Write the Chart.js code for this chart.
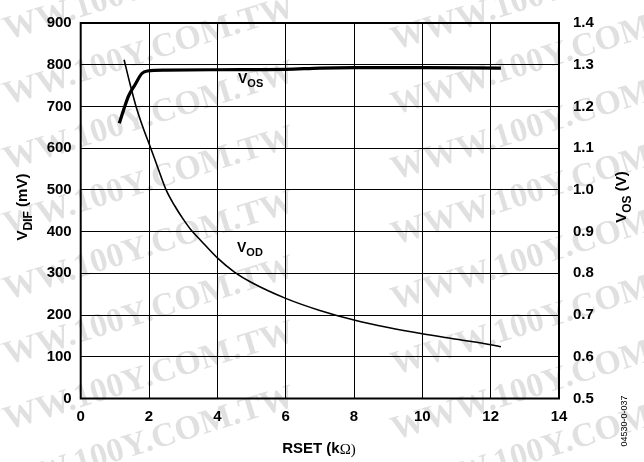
<!DOCTYPE html>
<html>
<head>
<meta charset="utf-8">
<script src="https://cdn.jsdelivr.net/npm/chart.js@4.4.1/dist/chart.umd.min.js"></script>
<style>
  html, body { margin: 0; padding: 0; background: #fff; }
  #wrap { width: 644px; height: 462px; position: relative; }
</style>
</head>
<body>
<div id="wrap"><canvas id="myChart" width="644" height="462"></canvas></div>
<script>
// RSET (kOhm) vs VOD (mV), left axis
const vodX = [1.27, 1.45, 1.62, 1.8, 2.05, 2.25, 2.5, 2.75, 3.0, 3.25, 3.5, 4.0, 4.5, 5.0, 6.0, 7.0, 8.0, 9.0, 10.0, 11.0, 12.0, 12.3];
const vodY = [812, 752, 700, 655, 600, 555, 500, 462, 430, 402, 380, 337, 303, 278, 240, 211, 188, 170, 155, 142, 129, 124];

// RSET (kOhm) vs VOS (V), right axis
const vosX = [1.13, 1.25, 1.4, 1.59, 1.79, 1.95, 2.5, 4.0, 6.0, 7.0, 8.0, 10.0, 12.3];
const vosY = [1.16, 1.19, 1.225, 1.252, 1.279, 1.285, 1.287, 1.288, 1.289, 1.292, 1.293, 1.293, 1.292];

const xTicks = [0, 2, 4, 6, 8, 10, 12, 14];
const leftTicks = [0, 100, 200, 300, 400, 500, 600, 700, 800, 900];
const rightTicks = [0.5, 0.6, 0.7, 0.8, 0.9, 1.0, 1.1, 1.2, 1.3, 1.4];

const tickFont = { family: 'Liberation Sans', size: 15, weight: 'bold' };

function pairs(xs, ys) {
    return xs.map(function (x, i) { return { x: x, y: ys[i] }; });
}

// V with a subscript, bold
function subText(ctx, main, sub, x, y, size) {
    ctx.font = 'bold ' + size + 'px "Liberation Sans"';
    ctx.textBaseline = 'alphabetic';
    ctx.textAlign = 'left';
    ctx.fillText(main, x, y);
    let w = ctx.measureText(main).width;
    ctx.font = 'bold ' + Math.round(size * 0.8) + 'px "Liberation Sans"';
    ctx.fillText(sub, x + w, y + size * 0.3);
    return w + ctx.measureText(sub).width;
}

const extras = {
    id: 'extras',
    beforeDraw(chart) {
        const ctx = chart.ctx;
        ctx.save();
        ctx.fillStyle = '#fff';
        ctx.fillRect(0, 0, chart.width, chart.height);
        // watermark
        ctx.fillStyle = 'rgba(0,0,0,0.12)';
        ctx.font = 'bold 34px "Liberation Serif"';
        ctx.textBaseline = 'alphabetic';
        ctx.textAlign = 'left';
        const rows = [-15, 50, 115, 180, 245, 310, 375, 440, 505];
        rows.forEach(function (ry) {
            [-25, 395].forEach(function (rx) {
                ctx.save();
                ctx.translate(rx, ry);
                ctx.rotate(-0.3);
                ctx.fillText('WWW.100Y.COM.TW', 0, 0);
                ctx.restore();
            });
        });
        ctx.restore();
    },
    afterDatasetsDraw(chart) {
        const ctx = chart.ctx;
        const a = chart.chartArea;
        ctx.save();
        ctx.strokeStyle = '#000';
        ctx.lineWidth = 2;
        ctx.strokeRect(a.left, a.top, a.right - a.left, a.bottom - a.top);
        ctx.fillStyle = '#000';

        // curve labels
        subText(ctx, 'V', 'OS', 238, 83, 14);
        subText(ctx, 'V', 'OD', 237, 252, 14);

        // left axis title
        ctx.save();
        ctx.translate(27, 207);
        ctx.rotate(-Math.PI / 2);
        ctx.font = 'bold 15px "Liberation Sans"';
        let w1 = ctx.measureText('V').width;
        ctx.font = 'bold 12px "Liberation Sans"';
        let w2 = ctx.measureText('DIF').width;
        ctx.font = 'bold 15px "Liberation Sans"';
        let w3 = ctx.measureText(' (mV)').width;
        let sx = -(w1 + w2 + w3) / 2;
        let dw = subText(ctx, 'V', 'DIF', sx, 0, 15);
        ctx.font = 'bold 15px "Liberation Sans"';
        ctx.fillText(' (mV)', sx + dw, 0);
        ctx.restore();

        // right axis title
        ctx.save();
        ctx.translate(626, 197);
        ctx.rotate(-Math.PI / 2);
        ctx.font = 'bold 15px "Liberation Sans"';
        w1 = ctx.measureText('V').width;
        ctx.font = 'bold 12px "Liberation Sans"';
        w2 = ctx.measureText('OS').width;
        ctx.font = 'bold 15px "Liberation Sans"';
        w3 = ctx.measureText(' (V)').width;
        sx = -(w1 + w2 + w3) / 2;
        dw = subText(ctx, 'V', 'OS', sx, 0, 15);
        ctx.font = 'bold 15px "Liberation Sans"';
        ctx.fillText(' (V)', sx + dw, 0);
        ctx.restore();

        // x axis title
        ctx.font = 'bold 15px "Liberation Sans"';
        const t1 = 'RSET (k';
        const t2 = 'Ω';
        const t3 = ')';
        let a1 = ctx.measureText(t1).width;
        ctx.font = '15px "Liberation Serif"';
        let a2 = ctx.measureText(t2).width;
        let a3 = ctx.measureText(t3).width;
        let x0 = 319 - (a1 + a2 + a3) / 2;
        ctx.textAlign = 'left';
        ctx.textBaseline = 'middle';
        ctx.font = 'bold 15px "Liberation Sans"';
        ctx.fillText(t1, x0, 449);
        ctx.font = '15px "Liberation Serif"';
        ctx.fillText(t2, x0 + a1, 450);
        ctx.fillText(t3, x0 + a1 + a2, 450);

        // figure code
        ctx.save();
        ctx.translate(625, 421);
        ctx.rotate(-Math.PI / 2);
        ctx.font = '9px "Liberation Sans"';
        ctx.textAlign = 'center';
        ctx.fillText('04530-0-037', 0, 0);
        ctx.restore();
        ctx.restore();
    }
};

const ctx = document.getElementById('myChart').getContext('2d');
const chart = new Chart(ctx, {
    type: 'scatter',
    data: {
        datasets: [
            {
                label: 'VOD',
                data: pairs(vodX, vodY),
                yAxisID: 'y',
                showLine: true,
                borderColor: '#000',
                borderWidth: 1.6,
                pointRadius: 0,
                tension: 0.4,
                cubicInterpolationMode: 'monotone'
            },
            {
                label: 'VOS',
                data: pairs(vosX, vosY),
                yAxisID: 'y1',
                showLine: true,
                borderColor: '#000',
                borderWidth: 3.2,
                pointRadius: 0,
                tension: 0.4,
                cubicInterpolationMode: 'monotone'
            }
        ]
    },
    options: {
        responsive: false,
        animation: false,
        devicePixelRatio: 1,
        layout: { padding: { top: 15, left: 0, right: 0, bottom: 0 } },
        plugins: {
            legend: { display: false },
            tooltip: { enabled: false }
        },
        scales: {
            x: {
                type: 'linear',
                min: 0,
                max: 14,
                afterBuildTicks(s) { s.ticks = xTicks.map(function (v) { return { value: v }; }); },
                afterFit(s) { s.height = 63.5; },
                ticks: { color: '#000', font: tickFont, padding: 9, maxRotation: 0 },
                grid: { color: '#000', lineWidth: 1, drawTicks: false },
                border: { display: false }
            },
            y: {
                position: 'left',
                min: 0,
                max: 900,
                afterBuildTicks(s) { s.ticks = leftTicks.map(function (v) { return { value: v }; }); },
                afterFit(s) { s.width = 80.7; },
                ticks: { color: '#000', font: tickFont, padding: 9 },
                grid: { color: '#000', lineWidth: 1, drawTicks: false },
                border: { display: false }
            },
            y1: {
                position: 'right',
                min: 0.5,
                max: 1.4,
                afterBuildTicks(s) { s.ticks = rightTicks.map(function (v) { return { value: v }; }); },
                afterFit(s) { s.width = 85; },
                ticks: {
                    color: '#000', font: tickFont, padding: 14,
                    callback: function (v) { return Number(v).toFixed(1); }
                },
                grid: { display: false, drawTicks: false },
                border: { display: false }
            }
        }
    },
    plugins: [extras]
});
</script>
</body>
</html>
